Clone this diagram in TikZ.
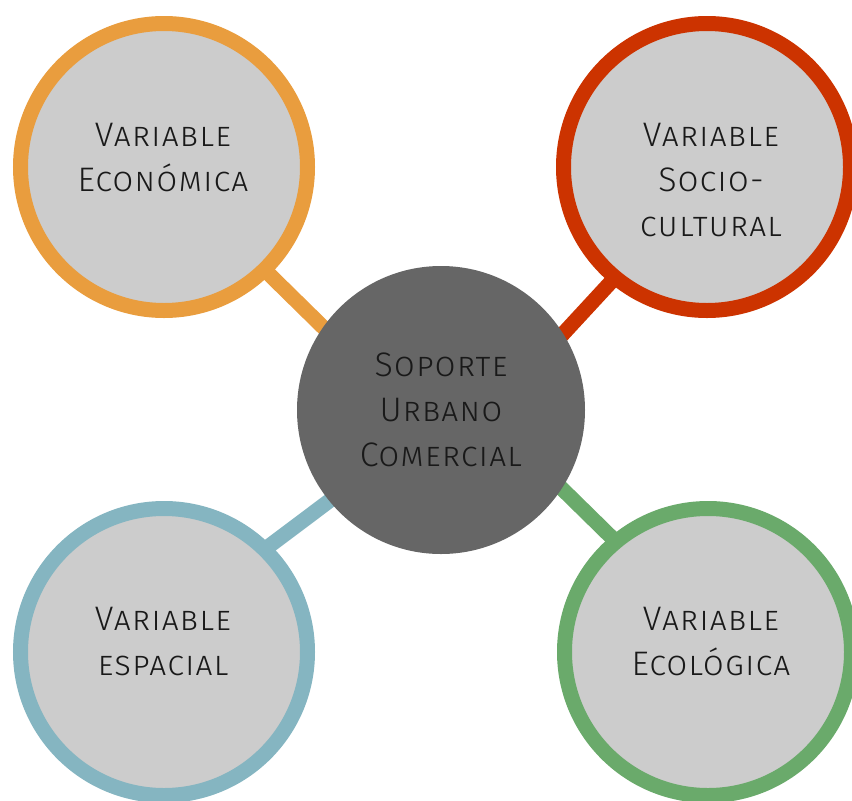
\documentclass[tikz,border=0pt]{standalone}
\usepackage{fontspec}
\setmainfont{Fira Sans Light}[LetterSpace=3]
\usepackage{tikz}
\usetikzlibrary{backgrounds}
\definecolor{ecoorange}{HTML}{E99D3E}
\definecolor{socred}{HTML}{CC3300}
\definecolor{espblue}{HTML}{85B5C1}
\definecolor{ecogreen}{HTML}{6AAA6B}
\definecolor{ringfill}{HTML}{CCCCCC}
\definecolor{hubgray}{HTML}{666666}

\begin{document}
\begin{tikzpicture}[x=1pt, y=-1pt,
    var/.style={circle, draw=#1, line width=15pt, fill=ringfill, minimum size=287pt, inner sep=0pt},
    hub/.style={circle, fill=hubgray, minimum size=288pt, inner sep=0pt, align=center, text=black!90, font=\fontsize{34}{45}\selectfont\scshape},
    vartxt/.style={anchor=north, inner sep=0pt, align=center, text=black!90, font=\fontsize{34}{45}\selectfont\scshape},
    link/.style={draw=#1, line width=15pt}]
    \useasboundingbox (0,0) rectangle (852,801);
    \node[var=ecoorange] (eco) at (164,167) {};
    \node[var=socred] (soc) at (707,167) {};
    \node[var=espblue] (esp) at (164,652) {};
    \node[var=ecogreen] (ecl) at (708,652) {};
    \node[hub] (sop) at (441,410) {Soporte\\Urbano\\Comercial};
    \begin{pgfonlayer}{background}
        \draw[link=ecoorange] ([yshift=-4pt]eco.center) -- ([yshift=-33pt]sop.center);
        \draw[link=socred] ([yshift=-11pt]soc.center) -- ([yshift=-56pt]sop.center);
        \draw[link=espblue] ([yshift=27pt]esp.center) -- ([yshift=-7pt]sop.center);
        \draw[link=ecogreen] ([yshift=20pt]ecl.center) -- ([yshift=40pt]sop.center);
    \end{pgfonlayer}
    \node[vartxt] (ecot) at (163,123) {Variable\\Económica};
    \node[vartxt] (soct) at (711,123) {Variable\\Socio-\\cultural};
    \node[vartxt] (espt) at (163,607) {Variable\\espacial};
    \node[vartxt] (eclt) at (711,607) {Variable\\Ecológica};
\end{tikzpicture}
\end{document}
